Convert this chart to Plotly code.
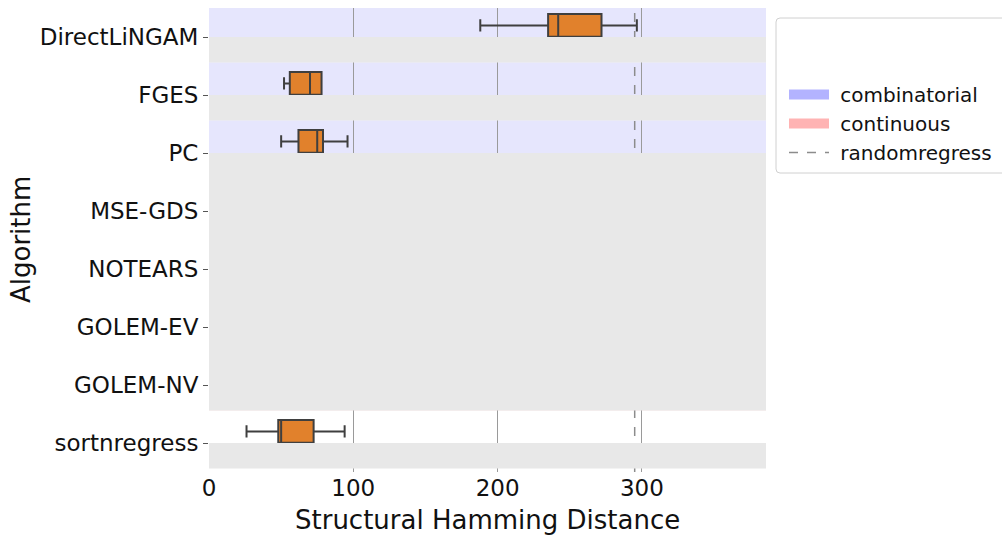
import plotly.graph_objects as go

# ---- data ----
algorithms = ["DirectLiNGAM", "FGES", "PC", "MSE-GDS", "NOTEARS",
              "GOLEM-EV", "GOLEM-NV", "sortnregress"]
combinatorial = ["DirectLiNGAM", "FGES", "PC"]
continuous = ["MSE-GDS", "NOTEARS", "GOLEM-EV", "GOLEM-NV"]

box_algs = ["DirectLiNGAM", "FGES", "PC", "sortnregress"]
lower_fence = [188, 52, 50, 26]
q1_vals = [235, 56, 62, 48]
median_vals = [242, 70, 75, 50]
q3_vals = [272, 78, 79, 72.5]
upper_fence = [296.5, 78, 96, 94]

randomregress_shd = 295
x_ticks = [0, 100, 200, 300]
legend_names = ["combinatorial", "continuous", "randomregress"]

# ---- style ----
FONT = "DejaVu Sans"
BOX_COLOR = "#e1812c"
EDGE = "#3f3f3f"
LAVENDER = "#e6e6fd"
PINK = "#ffe6e6"
GRAY = "#e8e8e8"
DODGE = 0.2
BOX_W = 0.39
W_PX, L, R, T, B = 1002, 209, 236, 8, 63
H_PX = 535
plot_w = W_PX - L - R
plot_h = H_PX - T - B
PAD = "\u00a0"

idx = {a: i for i, a in enumerate(algorithms)}

fig = go.Figure()

fig.add_trace(go.Box(
    y=[idx[a] - DODGE for a in box_algs],
    lowerfence=lower_fence, q1=q1_vals, median=median_vals,
    q3=q3_vals, upperfence=upper_fence,
    orientation="h", width=BOX_W, whiskerwidth=0.55,
    fillcolor=BOX_COLOR, line=dict(color=EDGE, width=2),
    boxpoints=False, showlegend=False, hoverinfo="skip",
))

# legend entries
legend_lines = [dict(color="#b3b3ff", width=15),
                dict(color="#ffb3b3", width=15),
                dict(color="#8c8c8c", width=1.5, dash="dash")]
for k, (nm, ln) in enumerate(zip(legend_names, legend_lines)):
    fig.add_trace(go.Scatter(x=[None], y=[None], mode="lines", name=PAD + nm,
                             line=ln, legendgroup=f"g{k}"))

shapes = []
# row shading (below gridlines)
for a in combinatorial:
    i = idx[a]
    shapes.append(dict(type="rect", xref="paper", yref="y", x0=0, x1=1,
                       y0=i - 0.56, y1=i + 0.44, fillcolor=LAVENDER,
                       line=dict(width=0), layer="below"))
for a in continuous:
    i = idx[a]
    shapes.append(dict(type="rect", xref="paper", yref="y", x0=0, x1=1,
                       y0=i - 0.56, y1=i + 0.44, fillcolor=PINK,
                       line=dict(width=0), layer="below"))
# randomregress reference line
shapes.append(dict(type="line", xref="x", yref="paper", x0=randomregress_shd,
                   x1=randomregress_shd, y0=0, y1=1,
                   line=dict(color="#8c8c8c", width=1.5, dash="dash"),
                   layer="below"))
# gray bands drawn above
gray_spans = [(0, 0.44), (1, 1.44), (2, 6.44), (7, 7.44)]
for y0, y1 in gray_spans:
    shapes.append(dict(type="rect", xref="paper", yref="y", x0=0, x1=1,
                       y0=y0, y1=y1, fillcolor=GRAY, line=dict(width=0),
                       layer="above"))

# legend frame (rounded)
def px2paper(px, py):
    return (px - L) / plot_w, (H_PX - B - py) / plot_h

x0p, y0p, x1p, y1p, r = 776, 18, 1012, 173, 4
ax, ay = px2paper(x0p + r, y0p)
path = f"M {ax},{ay}"
bx, by = px2paper(x1p - r, y0p); path += f" L {bx},{by}"
cx, cy = px2paper(x1p, y0p); dx, dy = px2paper(x1p, y0p + r); path += f" Q {cx},{cy} {dx},{dy}"
ex, ey = px2paper(x1p, y1p - r); path += f" L {ex},{ey}"
fx, fy = px2paper(x1p, y1p); gx, gy = px2paper(x1p - r, y1p); path += f" Q {fx},{fy} {gx},{gy}"
hx, hy = px2paper(x0p + r, y1p); path += f" L {hx},{hy}"
ix, iy = px2paper(x0p, y1p); jx, jy = px2paper(x0p, y1p - r); path += f" Q {ix},{iy} {jx},{jy}"
kx, ky = px2paper(x0p, y0p + r); path += f" L {kx},{ky}"
lx, ly = px2paper(x0p, y0p); path += f" Q {lx},{ly} {ax},{ay} Z"
shapes.append(dict(type="path", xref="paper", yref="paper", path=path,
                   line=dict(color="#d0d0d0", width=1), fillcolor="white",
                   layer="below"))

fig.update_layout(
    width=W_PX, height=H_PX,
    margin=dict(l=L, r=R, t=T, b=B, autoexpand=False),
    paper_bgcolor="white", plot_bgcolor="white",
    font=dict(family=FONT, size=23, color="#111"),
    shapes=shapes,
    showlegend=True,
    legend=dict(x=px2paper(784, 0)[0], y=px2paper(0, 75)[1],
                xanchor="left", yanchor="top",
                bgcolor="rgba(0,0,0,0)", borderwidth=0,
                font=dict(size=20), tracegroupgap=0,
                itemwidth=40),
    xaxis=dict(range=[0, 386], tickvals=x_ticks, showgrid=True,
               gridcolor="#9a9a9a", gridwidth=1, zeroline=False,
               ticks="", ticklabelstandoff=0,
               tickfont=dict(size=23), showline=False),
    yaxis=dict(range=[7.5, -0.5], tickvals=list(range(len(algorithms))),
               ticktext=algorithms, showgrid=False, zeroline=False,
               ticks="outside", ticklen=5, tickcolor="#555",
               tickfont=dict(size=23), showline=False),
    annotations=[
        dict(text="Structural Hamming Distance", xref="paper", yref="paper",
             x=0.5, y=px2paper(0, 520)[1], xanchor="center", yanchor="middle",
             showarrow=False, font=dict(size=26)),
        dict(text="Algorithm", xref="paper", yref="paper",
             x=px2paper(21, 0)[0], y=px2paper(0, 240)[1], xanchor="center",
             yanchor="middle", textangle=-90, showarrow=False,
             font=dict(size=26)),
    ],
)

fig.write_html("out.html")
